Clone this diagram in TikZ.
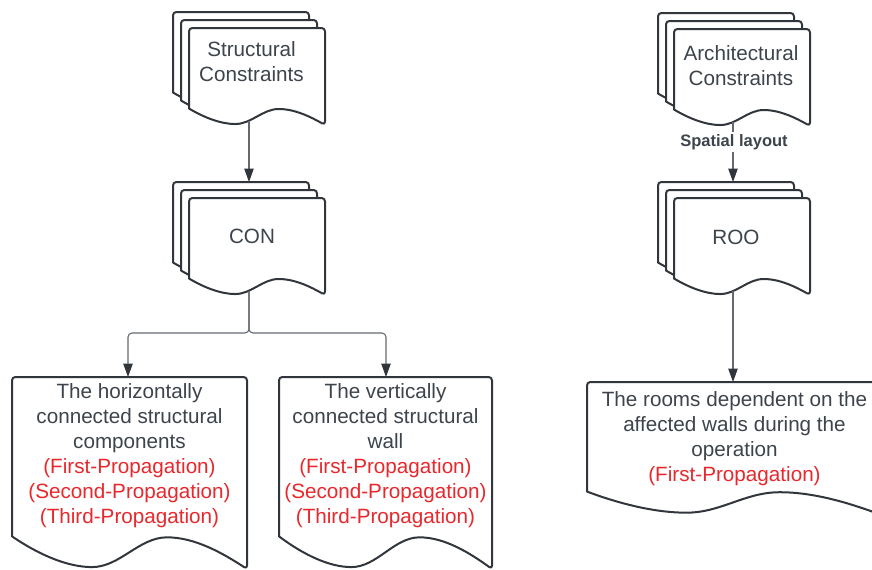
\documentclass[tikz,border=0pt]{standalone}
\usepackage{fontspec}
\setmainfont{Liberation Sans}
\usetikzlibrary{arrows.meta,calc}

\definecolor{inkline}{RGB}{49,54,60}
\definecolor{inktext}{RGB}{62,68,76}
\definecolor{inkwire}{RGB}{100,105,112}
\definecolor{propred}{RGB}{232,40,44}

% Document shape: top-left corner (#1,#2), width #3, height #4 (to the lowest point)
\newcommand{\docshape}[4]{%
  \draw[docline] ({#1+#3},{#2+#4})
    .. controls ({#1+0.9*#3},{#2+0.92*#4}) and ({#1+0.78*#3},{#2+0.835*#4}) .. ({#1+0.66*#3},{#2+0.835*#4})
    .. controls ({#1+0.54*#3},{#2+0.835*#4}) and ({#1+0.46*#3},{#2+0.99*#4}) .. ({#1+0.34*#3},{#2+0.99*#4})
    .. controls ({#1+0.24*#3},{#2+0.99*#4}) and ({#1+0.12*#3},{#2+0.93*#4}) .. ({#1},{#2+0.83*#4})
    [rounded corners=2.5pt] -- ({#1},{#2}) -- ({#1+#3},{#2}) -- cycle;
}
% Stack of three documents, back sheet at (#1,#2)
\newcommand{\docstack}[2]{%
  \docshape{#1}{#2}{136}{97}%
  \docshape{#1+8}{#2+8}{136}{97}%
  \docshape{#1+16}{#2+16}{136}{97}%
}

\tikzset{
  docline/.style={draw=inkline, line width=1.5pt, fill=white, line join=round},
  wire/.style={draw=inkwire, line width=0.8pt, -{Triangle[width=7pt,length=10pt,color=inkline]}},
  txt/.style={font=\fontsize{15.5}{18.75}\selectfont, text=inktext, align=center, inner sep=0pt},
  lbl/.style={font=\bfseries\fontsize{12.4}{14}\selectfont, text=inktext, fill=white, inner sep=2pt},
  prop/.style={text=propred}
}

\begin{document}
\begin{tikzpicture}[x=0.75pt,y=-0.75pt]
\useasboundingbox (0,0) rectangle (872,569);

% ---------- shapes ----------
\docstack{173}{12}
\docstack{173}{182}
\docstack{658}{13}
\docstack{658}{182}
\docshape{12}{377}{235}{192}
\docshape{279}{377}{213}{192}
\docshape{587}{382}{292}{132}

% ---------- texts ----------
\node[txt] (sc) at (251.5,61.5) {Structural\\Constraints};
\node[txt] (con) at (252,236) {CON};
\node[txt] (ac) at (741,65.5) {Architectural\\Constraints};
\node[txt] (roo) at (736,237) {ROO};
\node[txt] (hconn) at (129.5,456) {The horizontally\\connected structural\\components\\
  \textcolor{propred}{(First-Propagation)}\\\textcolor{propred}{(Second-Propagation)}\\\textcolor{propred}{(Third-Propagation)}};
\node[txt] (vconn) at (385.5,456) {The vertically\\connected structural\\wall\\
  \textcolor{propred}{(First-Propagation)}\\\textcolor{propred}{(Second-Propagation)}\\\textcolor{propred}{(Third-Propagation)}};
\node[txt] (rooms) at (734.5,439) {The rooms dependent on the\\affected walls during the\\operation\\
  \textcolor{propred}{(First-Propagation)}};

% ---------- connector end points ----------
\coordinate (sc-out) at (249,121);
\coordinate (con-in) at (249,182);
\coordinate (con-out) at (249,291);
\coordinate (split) at (249,333);
\coordinate (hconn-in) at (128,377);
\coordinate (vconn-in) at (386,377);
\coordinate (ac-out) at (733,122);
\coordinate (roo-in) at (733,182);
\coordinate (roo-out) at (733,291);
\coordinate (rooms-in) at (733,382);

% ---------- connectors ----------
\draw[wire] (sc-out) -- (con-in);
\draw[wire, rounded corners=3pt] (con-out) -- (split) -| (hconn-in);
\draw[wire, rounded corners=3pt] (con-out) -- (split) -| (vconn-in);
\draw[wire] (ac-out) -- (roo-in);
\node[lbl] (spatial) at (734,142) {Spatial layout};
\draw[wire] (roo-out) -- (rooms-in);
\end{tikzpicture}
\end{document}
